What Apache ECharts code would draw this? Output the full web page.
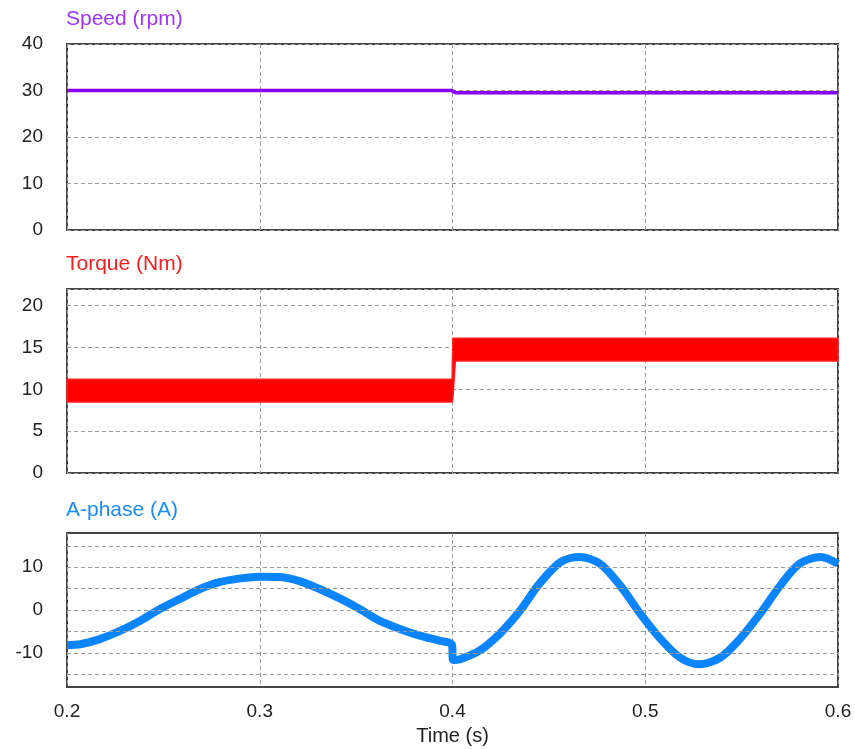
<!DOCTYPE html>
<html>
<head>
<meta charset="utf-8">
<script src="https://cdn.jsdelivr.net/npm/echarts@6/dist/echarts.min.js"></script>
<style>
html,body{margin:0;padding:0;background:#fff;}
#c{width:855px;height:749px;}
</style>
</head>
<body>
<div id="c"></div>
<script>
// ---- data ----
var xTicks = [0.2, 0.3, 0.4, 0.5, 0.6];

var speedTime = [0.2, 0.3995, 0.4015, 0.6];
var speedVal  = [30, 30, 29.5, 29.5];

var torqueTime = [0.2, 0.3998, 0.4002, 0.4015, 0.6];
var torqueLow  = [8.5, 8.5, 9.0, 13.4, 13.4];
var torqueHigh = [11.2, 11.2, 16.1, 16.1, 16.1];

var currentTime = [0.200,0.207,0.217,0.2275,0.238,0.248,0.2586,0.269,0.279,0.290,0.300,0.3105,0.321,0.331,0.342,0.352,0.362,0.373,0.383,0.3935,0.3996,0.4004,0.404,0.414,0.4246,0.435,0.445,0.456,0.466,0.4765,0.487,0.4975,0.508,0.518,0.528,0.539,0.549,0.5595,0.570,0.580,0.591,0.600];
var currentVal  = [-8.2,-8.0,-6.8,-4.9,-2.5,0.2,2.6,4.9,6.5,7.4,7.8,7.7,6.7,4.9,2.6,0.2,-2.5,-4.5,-6.0,-7.2,-8.0,-11.7,-11.5,-9.5,-5.5,-0.2,6.1,11.2,12.4,10.8,5.7,-0.9,-6.8,-11.1,-12.7,-11.1,-6.8,-0.9,5.7,10.8,12.4,10.8];

var speedTicks = [0, 10, 20, 30, 40];
var torqueTicks = [0, 5, 10, 15, 20];
var currentLabels = [-10, 0, 10];
var currentGrid = [-15, -10, -5, 0, 5, 10, 15];

// ---- build chart ----
var FONT = 'Liberation Sans, Arial, sans-serif';
var gridColor = '#9a9a9a';
var dash = [4, 3];

function pairs(t, v) { return t.map(function (x, i) { return [x, v[i]]; }); }

var grids = [
  {left: 67, right: 17, top: 44, height: 186},
  {left: 67, right: 17, top: 289, height: 184},
  {left: 67, right: 17, top: 533, height: 154}
].map(function (g) {
  g.show = true; g.borderColor = '#444'; g.borderWidth = 2; g.backgroundColor = 'transparent';
  g.containLabel = false; g.outerBoundsMode = 'none';
  return g;
});

function xAxis(idx, showLabels) {
  return {
    type: 'value', gridIndex: idx, min: xTicks[0], max: xTicks[xTicks.length - 1], interval: 0.1,
    axisLine: {show: false}, axisTick: {show: false},
    axisLabel: {show: showLabels, fontSize: 19, color: '#222', fontFamily: FONT, margin: 15,
      formatter: function (v) { return (Math.round(v * 10) / 10).toFixed(1); }},
    splitLine: {show: true, lineStyle: {color: gridColor, type: dash, width: 1}},
    name: showLabels ? 'Time (s)' : '',
    nameLocation: 'middle', nameGap: 39,
    nameTextStyle: {fontSize: 20, color: '#222', fontFamily: FONT}
  };
}

var yLabelStyle = {fontSize: 19, color: '#222', fontFamily: FONT, margin: 24};

function titleOf(text, top, color) {
  return {text: text, left: 66, top: top, padding: 0,
    textStyle: {fontSize: 21, fontWeight: 'normal', color: color, fontFamily: FONT}};
}

var option = {
  animation: false,
  backgroundColor: '#fff',
  title: [
    titleOf('Speed (rpm)', 9, '#a033ff'),
    titleOf('Torque (Nm)', 254, '#ff1a1a'),
    titleOf('A-phase (A)', 500, '#1a8cff')
  ],
  grid: grids,
  xAxis: [xAxis(0, false), xAxis(1, false), xAxis(2, true)],
  yAxis: [
    {type: 'value', gridIndex: 0, min: speedTicks[0], max: speedTicks[speedTicks.length - 1], interval: 10,
      axisLine: {show: false}, axisTick: {show: false}, axisLabel: yLabelStyle,
      splitLine: {show: true, lineStyle: {color: gridColor, type: dash, width: 1}}},
    {type: 'value', gridIndex: 1, min: torqueTicks[0], max: 22, interval: 5,
      axisLine: {show: false}, axisTick: {show: false},
      axisLabel: Object.assign({}, yLabelStyle, {showMaxLabel: false,
        formatter: function (v) { return torqueTicks.indexOf(v) >= 0 ? String(v) : ''; }}),
      splitLine: {show: true, lineStyle: {color: gridColor, type: dash, width: 1}}},
    {type: 'value', gridIndex: 2, min: -18, max: 18, interval: 2,
      axisLine: {show: false}, axisTick: {show: false},
      axisLabel: Object.assign({}, yLabelStyle, {
        formatter: function (v) { return currentLabels.indexOf(v) >= 0 ? String(v) : ''; }}),
      splitLine: {show: false}}
  ],
  series: [
    {type: 'line', xAxisIndex: 0, yAxisIndex: 0, data: pairs(speedTime, speedVal),
      showSymbol: false, lineStyle: {color: '#8a00ff', width: 3.5}, z: 3},
    {type: 'custom', xAxisIndex: 1, yAxisIndex: 1, z: 3,
      data: torqueTime.map(function (t, i) { return [t, torqueLow[i], torqueHigh[i]]; }),
      encode: {x: 0, y: [1, 2]},
      renderItem: function (params, api) {
        if (params.dataIndex !== 0) return null;
        var pts = [];
        var i;
        for (i = 0; i < torqueTime.length; i++) pts.push(api.coord([torqueTime[i], torqueHigh[i]]));
        for (i = torqueTime.length - 1; i >= 0; i--) pts.push(api.coord([torqueTime[i], torqueLow[i]]));
        return {type: 'polygon', shape: {points: pts},
          style: {fill: '#ff0000', stroke: '#ff2020', lineWidth: 1.5}};
      }},
    {type: 'line', xAxisIndex: 2, yAxisIndex: 2, data: [], z: 1,
      markLine: {silent: true, symbol: 'none', label: {show: false}, animation: false,
        lineStyle: {color: gridColor, type: dash, width: 1},
        data: currentGrid.map(function (v) { return {yAxis: v}; })}},
    {type: 'line', xAxisIndex: 2, yAxisIndex: 2, data: pairs(currentTime, currentVal),
      showSymbol: false, smooth: 0.3, lineStyle: {color: '#0a84ff', width: 8}, z: 3}
  ]
};

var chart = echarts.init(document.getElementById('c'), null, {renderer: 'canvas'});
chart.setOption(option);
</script>
</body>
</html>
